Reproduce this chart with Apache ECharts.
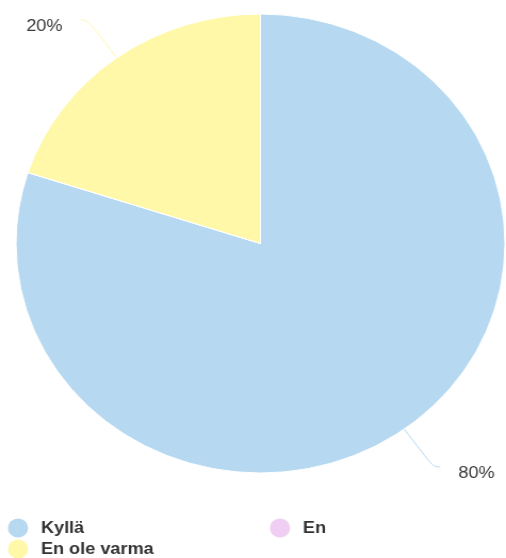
<!DOCTYPE html>
<html>
<head>
<meta charset="utf-8">
<script src="https://cdn.jsdelivr.net/npm/echarts@6/dist/echarts.min.js"></script>
<style>
  html, body { margin: 0; padding: 0; background: #fff; overflow: hidden; }
  #wrap { width: 506px; height: 558px; overflow: hidden; }
  /* the chart is laid out on a narrower canvas and stretched sideways */
  #chart { width: 475px; height: 558px; transform: scaleX(1.06526); transform-origin: 0 0; }
</style>
</head>
<body>
<div id="wrap"><div id="chart"></div></div>
<script>
// answers and their share of responses
const categories = ['Kyllä', 'En', 'En ole varma'];
const values = [80, 0, 20];
const colors = ['#b6d8f0', '#f0cdf3', '#fff8a8'];

const FONT = '"Liberation Sans", Arial, sans-serif';

const chart = echarts.init(document.getElementById('chart'), null, { renderer: 'canvas' });

const pieData = categories.map((name, i) => ({
  name: name,
  value: values[i],
  itemStyle: { color: colors[i] }
}));

// one legend per entry so the two-column arrangement can be placed exactly
function legendAt(name, left, top) {
  return {
    data: [name],
    left: left,
    top: top,
    padding: 0,
    itemWidth: 19,
    itemHeight: 19,
    icon: 'circle',
    itemStyle: { borderWidth: 0 },
    textStyle: {
      fontFamily: FONT, fontSize: 17, fontWeight: 'bold', color: '#333',
      padding: [0, 0, 0, 7]
    }
  };
}

chart.setOption({
  animation: false,
  legend: [
    legendAt(categories[0], 7.4, 518.5),
    legendAt(categories[1], 253.3, 518.5),
    legendAt(categories[2], 7.4, 539.5)
  ],
  series: [{
    type: 'pie',
    center: [244.5, 243.5],
    radius: 229.5,
    startAngle: 90,
    clockwise: true,
    minShowLabelAngle: 1,
    itemStyle: { borderColor: '#fff', borderWidth: 1 },
    label: {
      show: true,
      position: 'outside',
      formatter: '{v|{d}%}',
      rich: {
        v: {
          fontFamily: FONT,
          fontSize: 17,
          color: '#3a3a3a',
          padding: [12, 0, 0, 0]
        }
      },
      distanceToLabelLine: 17
    },
    labelLine: {
      show: true,
      length: 46.7,
      length2: 6.5,
      smooth: 0.5,
      lineStyle: { width: 1 }
    },
    emphasis: { scale: false },
    data: pieData
  }]
});
</script>
</body>
</html>
